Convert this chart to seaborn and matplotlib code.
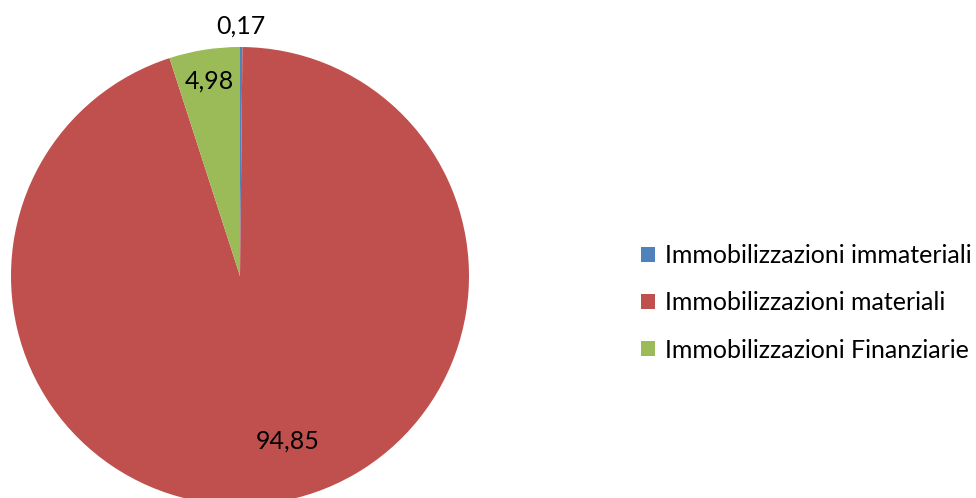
import numpy as np
import matplotlib
matplotlib.use("Agg")
import matplotlib.pyplot as plt
import seaborn as sns

categories = ["Immobilizzazioni immateriali", "Immobilizzazioni materiali", "Immobilizzazioni Finanziarie"]
values = [0.17, 94.85, 4.98]
labels = ["0,17", "94,85", "4,98"]
colors = ["#4F81BD", "#C0504D", "#9BBB59"]

sns.set_theme(style="white")
plt.rcParams["font.family"] = ["Lato", "DejaVu Sans"]
plt.rcParams["text.color"] = "black"

fig = plt.figure(figsize=(9.76, 4.98), dpi=100)
ax = fig.add_axes([11 / 976, -7 / 498, 458 / 976, 458 / 498])

wedges, _ = ax.pie(values, colors=colors, startangle=90, counterclock=False,
                   radius=1, wedgeprops=dict(linewidth=0))
ax.set_xlim(-1, 1)
ax.set_ylim(-1, 1)
ax.set_aspect("equal")
ax.axis("off")

# label radius and angle tweak (degrees) per slice
label_r = [1.09, 0.75, 0.86]
label_shift = [0, 7.5, 0]
for w, lab, r, sh in zip(wedges, labels, label_r, label_shift):
    ang = np.deg2rad((w.theta1 + w.theta2) / 2 + sh)
    ax.text(r * np.cos(ang), r * np.sin(ang), lab, ha="center", va="center",
            fontsize=18, color="black", clip_on=False)

leg = fig.legend(wedges, categories, loc="center left", bbox_to_anchor=(641 / 976, 195 / 498),
                 frameon=False, fontsize=18, handlelength=0.55, handleheight=0.55,
                 handletextpad=0.4, labelspacing=0.97, borderaxespad=0, borderpad=0)
for t in leg.get_texts():
    t.set_color("black")

fig.savefig("out.png", dpi=100)
